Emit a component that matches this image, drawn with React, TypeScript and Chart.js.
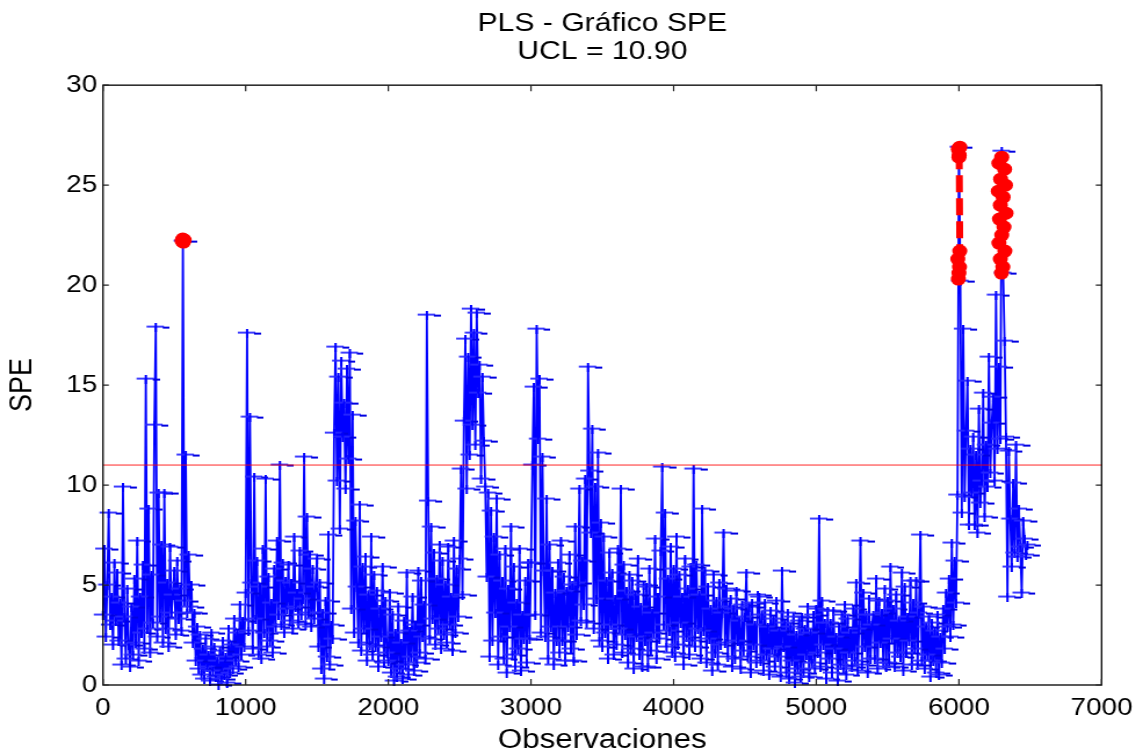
import React, { useEffect, useRef } from 'react';
import { Chart, registerables } from 'chart.js';

Chart.register(...registerables);

// ---------------- data ----------------
const OBS_STEP = 10; // one sampled observation every 10

// each row = 100 observations
const spe0000 = [
  3.5, 6.8, 2.4, 5.0, 8.6, 3.0, 4.4, 2.0, 6.1, 3.2,
  5.6, 2.2, 4.1, 1.0, 9.9, 3.4, 1.3, 4.8, 2.0, 0.9,
  3.9, 1.5, 5.3, 2.1, 7.2, 1.2, 4.4, 2.6, 6.0, 1.8,
  15.3, 2.8, 8.8, 1.6, 5.5, 3.1, 13.0, 17.9, 2.4, 9.6,
  3.4, 7.0, 2.1, 9.6, 2.8, 5.1, 1.9, 6.9, 3.6, 4.5,
  5.7, 2.5, 6.2, 3.3, 4.8, 2.7, 22.2, 4.2, 11.5, 3.6,
  6.5, 3.9, 5.0, 2.1, 3.6, 1.2, 2.9, 0.8, 2.5, 0.5,
  1.8, 0.3, 2.3, 0.9, 1.5, 0.2, 2.6, 0.7, 1.9, 0.4,
  1.2, 0.0, 1.7, 0.3, 2.2, 0.5, 1.4, 0.1, 2.8, 0.6,
  2.0, 0.8, 3.3, 1.2, 2.6, 0.9, 4.0, 1.5, 3.2, 1.9,
];
const spe1000 = [
  4.6, 17.6, 2.7, 13.4, 5.1, 1.8, 10.4, 3.3, 6.2, 1.5,
  4.9, 1.3, 6.8, 2.6, 10.3, 1.9, 5.4, 2.2, 4.1, 1.6,
  5.8, 2.9, 7.2, 3.5, 11.0, 3.0, 6.1, 2.6, 5.2, 3.8,
  6.0, 3.2, 5.1, 2.8, 7.4, 3.9, 4.6, 3.1, 6.7, 3.5,
  4.3, 11.4, 3.0, 8.4, 3.6, 6.5, 2.9, 5.8, 3.3, 4.9,
  6.3, 1.9, 5.1, 0.8, 3.6, 0.3, 4.2, 1.4, 7.5, 1.0,
  3.0, 2.3, 12.6, 16.9, 10.2, 15.4, 7.8, 16.2, 12.4, 14.1,
  9.8, 15.8, 11.3, 16.6, 3.8, 13.5, 2.6, 8.2, 4.9, 2.1,
  9.0, 1.7, 5.9, 2.8, 6.4, 1.2, 4.5, 2.0, 7.4, 1.5,
  5.5, 1.9, 4.7, 0.9, 3.8, 2.4, 5.9, 1.1, 4.2, 1.6,
];
const spe2000 = [
  1.2, 4.6, 0.6, 3.5, 0.2, 2.6, 0.4, 3.9, 0.8, 2.1,
  0.3, 3.2, 1.0, 5.6, 0.5, 2.7, 1.4, 4.4, 0.7, 3.0,
  1.1, 5.7, 1.6, 5.2, 2.4, 4.0, 1.3, 18.5, 9.2, 2.3,
  7.9, 3.3, 6.6, 2.0, 5.3, 2.8, 7.0, 1.8, 6.2, 2.5,
  5.0, 2.1, 6.9, 3.0, 4.4, 1.7, 7.2, 2.6, 5.8, 3.4,
  6.3, 10.8, 4.5, 13.2, 17.3, 9.8, 16.4, 11.5, 18.8, 13.0,
  17.6, 12.0, 18.6, 14.6, 16.0, 10.3, 15.4, 12.2, 9.9, 5.4,
  9.6, 1.4, 8.7, 2.2, 7.4, 3.6, 9.3, 1.0, 6.5, 2.4,
  5.2, 1.3, 6.8, 0.6, 4.8, 2.9, 7.9, 1.5, 5.9, 0.9,
  4.1, 1.8, 6.8, 0.7, 3.5, 2.3, 5.2, 1.1, 6.1, 2.3,
];
const spe3000 = [
  6.1, 11.0, 14.9, 3.5, 17.8, 12.3, 15.3, 2.6, 11.4, 5.7,
  2.4, 9.3, 1.3, 7.0, 2.9, 5.7, 1.0, 4.6, 2.2, 6.1,
  1.6, 7.2, 2.2, 5.4, 1.2, 4.7, 2.9, 6.5, 1.8, 5.0,
  1.2, 7.9, 2.5, 5.1, 9.8, 3.2, 6.2, 4.0, 10.3, 3.1,
  15.9, 10.7, 7.6, 12.8, 2.8, 9.9, 4.3, 11.6, 2.2, 8.1,
  1.9, 7.4, 2.6, 5.2, 1.3, 6.6, 3.0, 5.6, 1.5, 4.3,
  2.0, 6.8, 2.8, 9.8, 1.6, 6.0, 2.5, 4.7, 1.1, 5.5,
  1.8, 5.2, 0.8, 4.5, 2.4, 6.3, 1.5, 3.9, 0.9, 5.0,
  2.2, 4.9, 0.9, 5.8, 1.7, 3.6, 2.6, 7.3, 1.3, 4.4,
  2.3, 6.7, 10.9, 3.0, 8.6, 1.9, 5.3, 2.7, 6.9, 1.6,
];
const spe4000 = [
  5.8, 1.4, 7.4, 2.0, 5.5, 3.1, 4.4, 1.0, 6.3, 2.4,
  4.8, 1.5, 5.9, 2.2, 10.8, 1.9, 6.0, 2.8, 4.5, 1.3,
  8.8, 2.7, 5.7, 1.1, 4.9, 2.3, 3.8, 0.7, 5.5, 1.6,
  4.2, 1.0, 5.1, 2.0, 3.6, 7.6, 2.1, 4.8, 1.4, 3.9,
  4.3, 0.9, 3.8, 1.3, 4.7, 2.2, 3.2, 0.8, 4.0, 1.7,
  3.4, 5.6, 1.4, 3.9, 0.6, 4.1, 2.0, 3.0, 1.1, 4.5,
  4.4, 1.2, 3.5, 0.7, 4.1, 1.5, 2.9, 0.5, 3.7, 1.8,
  3.3, 0.9, 4.2, 1.4, 2.7, 0.4, 5.7, 1.9, 3.1, 0.6,
  3.6, 0.3, 2.9, 1.2, 3.4, 0.1, 2.5, 0.8, 3.2, 0.4,
  3.4, 0.6, 2.8, 1.5, 3.9, 0.4, 2.6, 1.1, 3.5, 0.8,
];
const spe5000 = [
  3.8, 1.6, 8.3, 0.9, 4.2, 2.0, 3.1, 0.3, 3.7, 1.3,
  3.1, 0.6, 3.7, 1.8, 2.4, 0.2, 2.9, 1.0, 3.5, 0.8,
  4.0, 0.5, 3.3, 1.6, 2.6, 0.9, 3.8, 1.2, 5.1, 0.7,
  2.8, 7.2, 1.0, 4.6, 1.9, 3.5, 0.6, 4.3, 1.3, 3.0,
  3.5, 1.3, 5.3, 0.8, 4.2, 2.1, 3.6, 1.1, 4.8, 0.9,
  4.2, 1.1, 5.9, 2.3, 3.8, 0.9, 4.5, 1.6, 3.2, 1.4,
  5.6, 0.7, 4.9, 1.6, 3.4, 2.2, 5.2, 1.0, 4.1, 1.8,
  5.2, 1.0, 3.6, 7.5, 1.2, 3.9, 0.8, 2.9, 1.5, 3.4,
  0.4, 3.1, 1.2, 2.7, 0.6, 3.5, 0.5, 2.4, 1.1, 3.8,
  1.8, 4.6, 2.9, 5.3, 2.4, 7.1, 3.0, 6.2, 4.1, 9.5,
];
const spe6000 = [
  26.9, 20.2, 8.6, 17.8, 9.4, 12.7, 15.2, 8.0, 11.8, 9.6,
  12.4, 8.0, 11.5, 7.6, 13.8, 9.1, 10.2, 14.6, 8.4, 12.0,
  9.9, 16.4, 10.6, 13.1, 14.4, 10.2, 19.5, 11.8, 15.9, 12.3,
  26.7, 20.6, 17.2, 12.4, 4.4, 11.7, 8.3, 5.9, 10.1, 6.6,
  12.0, 6.4, 8.8, 6.9, 4.6, 8.2, 7.3, 6.5, 7.0,
];

// out-of-control points (red circles)
const redObs560 = [554, 559, 564, 569];
const redSpe560 = [22.2, 22.3, 22.15, 22.25];
const redObs6000 = [5996, 6004, 5992, 6000, 6006, 6002, 5996, 6006, 6000];
const redSpe6000 = [20.3, 20.9, 21.3, 20.6, 21.7, 26.5, 26.8, 26.9, 26.4];
const redObs6300 = [6300, 6280, 6320, 6292, 6326, 6276, 6310, 6290, 6330, 6284, 6316, 6300, 6280, 6322, 6290, 6308, 6298];
const redSpe6300 = [26.4, 26.1, 25.8, 25.3, 25.0, 24.7, 24.4, 24.0, 23.6, 23.3, 22.9, 22.5, 22.1, 21.7, 21.3, 20.9, 20.6];

const uclLevel = 11.0; // red control line as drawn
const titleLines = ['PLS - Gráfico SPE', 'UCL = 10.90'];
const xTicks = [0, 1000, 2000, 3000, 4000, 5000, 6000, 7000];
const yTicks = [0, 5, 10, 15, 20, 25, 30];
const xLabel = 'Observaciones';
const yLabel = 'SPE';

// ---------------- layout ----------------
const CANVAS_W = 985;
const CANVAS_H = 753;
const DISPLAY_W = 1143;
const S = DISPLAY_W / CANVAS_W;
const PLOT_LEFT = 103 / S;
const PLOT_RIGHT = 1103 / S;
const PLOT_BOTTOM = 685;
const FONT = "'Liberation Sans', Arial, Helvetica, sans-serif";

function makePlusMarker(): HTMLCanvasElement {
  const c = document.createElement('canvas');
  c.width = 24;
  c.height = 9;
  const g = c.getContext('2d') as CanvasRenderingContext2D;
  g.fillStyle = 'rgba(40,40,255,0.9)';
  g.fillRect(4, 3, 15, 2);
  g.fillStyle = '#0000e0';
  g.fillRect(18, 4, 6, 2);
  g.fillStyle = '#0000ff';
  g.fillRect(11, 0, 2, 9);
  return c;
}

const framePlugin = {
  id: 'matlabFrame',
  afterDatasetsDraw(chart: any) {
    const { ctx, chartArea, scales } = chart;
    const { left, right, top, bottom } = chartArea;
    ctx.save();
    ctx.strokeStyle = '#000';
    ctx.lineWidth = 1.3;
    ctx.strokeRect(left, top, right - left, bottom - top);
    ctx.lineWidth = 1.2;
    ctx.strokeStyle = '#222';
    ctx.beginPath();
    xTicks.forEach((v) => {
      const px = scales.x.getPixelForValue(v);
      ctx.moveTo(px, bottom);
      ctx.lineTo(px, bottom - 6);
      ctx.moveTo(px, top);
      ctx.lineTo(px, top + 6);
    });
    yTicks.forEach((v) => {
      const py = scales.y.getPixelForValue(v);
      ctx.moveTo(left, py);
      ctx.lineTo(left + 5, py);
      ctx.moveTo(right, py);
      ctx.lineTo(right - 5, py);
    });
    ctx.stroke();
    ctx.restore();
  },
};

export default function App() {
  const ref = useRef<HTMLCanvasElement | null>(null);

  useEffect(() => {
    const canvas = ref.current;
    if (!canvas) return;
    Chart.defaults.font.family = FONT;
    Chart.defaults.color = '#000';

    const speValues = [...spe0000, ...spe1000, ...spe2000, ...spe3000, ...spe4000, ...spe5000, ...spe6000];
    const bluePoints = speValues.map((v, i) => ({ x: i * OBS_STEP, y: v }));
    const toPts = (xs: number[], ys: number[]) => xs.map((x, i) => ({ x, y: ys[i] }));
    const redPoints: any[] = [
      ...toPts(redObs560, redSpe560),
      { x: 600, y: null },
      ...toPts(redObs6000, redSpe6000),
      { x: 6100, y: null },
      ...toPts(redObs6300, redSpe6300),
    ];
    const uclPoints = [
      { x: xTicks[0], y: uclLevel },
      { x: xTicks[xTicks.length - 1], y: uclLevel },
    ];

    const chart = new Chart(canvas, {
      type: 'line',
      data: {
        datasets: [
          {
            label: 'Fuera de control',
            data: redPoints,
            borderColor: '#ff0000',
            backgroundColor: '#ff0000',
            borderWidth: 6,
            borderDash: [17, 6],
            borderJoinStyle: 'round',
            pointRadius: 6.5,
            pointHoverRadius: 6.5,
            pointBorderWidth: 0,
            pointBackgroundColor: '#ff0000',
            spanGaps: false,
            clip: false,
          } as any,
          {
            label: 'UCL',
            data: uclPoints,
            borderColor: 'rgba(255,0,0,0.85)',
            borderWidth: 1,
            pointRadius: 0,
          },
          {
            label: 'SPE',
            data: bluePoints,
            borderColor: '#0000ff',
            backgroundColor: '#0000ff',
            borderWidth: 1.8,
            pointStyle: makePlusMarker() as any,
            pointRadius: 6,
            pointHoverRadius: 6,
            clip: false,
          } as any,
        ],
      },
      options: {
        responsive: false,
        animation: false,
        devicePixelRatio: 1,
        events: [],
        layout: { padding: { left: 0, right: CANVAS_W - PLOT_RIGHT, top: 0, bottom: 0 } },
        plugins: {
          legend: { display: false },
          tooltip: { enabled: false },
          title: {
            display: true,
            fullSize: false,
            text: titleLines,
            color: '#000',
            font: { family: FONT, size: 26, weight: 'normal', lineHeight: 1.08 },
            padding: { top: 10, bottom: 19 },
          },
        },
        scales: {
          x: {
            type: 'linear',
            min: 0,
            max: 7000,
            ticks: {
              stepSize: 1000,
              padding: 9,
              maxRotation: 0,
              autoSkip: false,
              color: '#000',
              font: { family: FONT, size: 24 },
              callback: (v: any) => String(v),
            },
            grid: { display: false, drawTicks: false },
            border: { display: false },
            title: {
              display: true,
              text: xLabel,
              color: '#000',
              font: { family: FONT, size: 27, lineHeight: 0.92 },
              padding: { top: 0, bottom: 0 },
            },
            afterFit: (s: any) => {
              s.height = CANVAS_H - PLOT_BOTTOM;
            },
          },
          y: {
            type: 'linear',
            min: 0,
            max: 30,
            ticks: {
              stepSize: 5,
              padding: 5,
              color: '#000',
              font: { family: FONT, size: 24 },
              callback: (v: any) => String(v),
            },
            grid: { display: false, drawTicks: false },
            border: { display: false },
            title: {
              display: true,
              text: yLabel,
              color: '#000',
              font: { family: FONT, size: 27, lineHeight: 1.2 },
              padding: { top: 3, bottom: 0 },
            },
            afterFit: (s: any) => {
              s.width = PLOT_LEFT;
            },
          },
        },
      } as any,
      plugins: [framePlugin],
    });

    return () => chart.destroy();
  }, []);

  return (
    <div style={{ position: 'fixed', left: 0, top: 0, width: DISPLAY_W, height: CANVAS_H, background: '#fff', overflow: 'hidden' }}>
      <canvas
        ref={ref}
        width={CANVAS_W}
        height={CANVAS_H}
        style={{ display: 'block', width: DISPLAY_W + 'px', height: CANVAS_H + 'px' }}
      />
    </div>
  );
}
